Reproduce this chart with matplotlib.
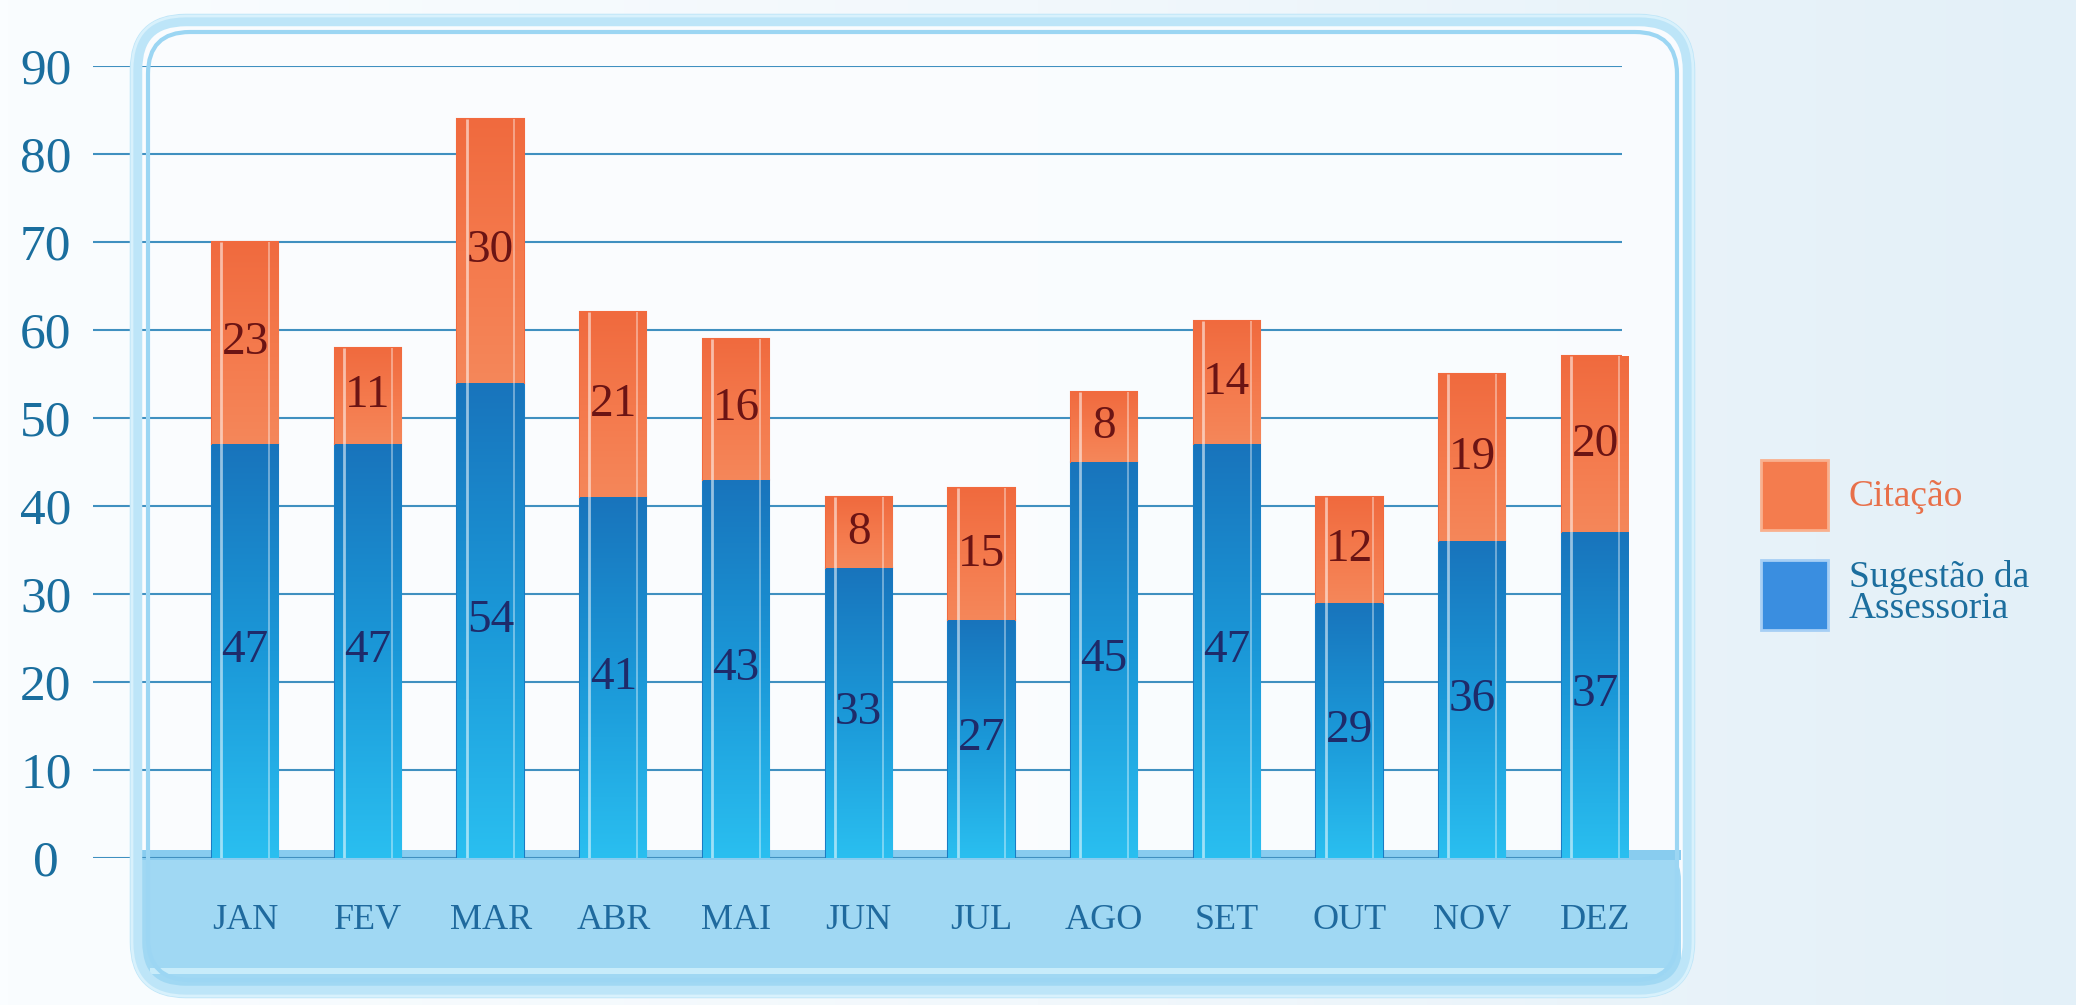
import matplotlib
matplotlib.use('Agg')
import matplotlib.pyplot as plt
import numpy as np
from matplotlib.patches import FancyBboxPatch, Rectangle
from matplotlib.colors import LinearSegmentedColormap

MONTHS = ['JAN', 'FEV', 'MAR', 'ABR', 'MAI', 'JUN', 'JUL', 'AGO', 'SET', 'OUT', 'NOV', 'DEZ']
SUGESTAO = [47, 47, 54, 41, 43, 33, 27, 45, 47, 29, 36, 37]
CITACAO = [23, 11, 30, 21, 16, 8, 15, 8, 14, 12, 19, 20]
Y_TICKS = list(range(0, 100, 10))

plt.rcParams['font.family'] = ['Liberation Serif', 'DejaVu Serif']

W, H = 2076, 1005
BAR_W = 0.54

blue_cmap = LinearSegmentedColormap.from_list('blue', ['#2ABFF0', '#1B98D8', '#1874BC'])
orange_cmap = LinearSegmentedColormap.from_list('orange', ['#F5875A', '#F4794C', '#F06A3E'])

fig = plt.figure(figsize=(W / 100, H / 100), dpi=100)

# background + frame fill, pixel coordinates
bg = fig.add_axes([0, 0, 1, 1], zorder=0)
bg.set_xlim(0, W)
bg.set_ylim(H, 0)
bg.axis('off')
grad = np.linspace(0, 1, 256).reshape(1, -1)
bg.imshow(grad, extent=(0, W, H, 0), aspect='auto',
          cmap=LinearSegmentedColormap.from_list('bg', ['#FAFDFF', '#F2F8FC', '#E3F0F8']))
bg.add_patch(FancyBboxPatch((140, 24), 1545, 964, boxstyle='round,pad=0,rounding_size=45',
                            facecolor='#FBFDFF', edgecolor='none', alpha=0.9))
# glass base shelf
bg.add_patch(FancyBboxPatch((136, 850), 1545, 138, boxstyle='round,pad=0,rounding_size=30',
                            facecolor='#A0D8F3', edgecolor='none'))
bg.add_patch(Rectangle((136, 850), 1545, 10, facecolor='#88CCEF', edgecolor='none'))
bg.add_patch(Rectangle((150, 968), 1515, 6, facecolor='#C8ECFA', edgecolor='none'))

ax = fig.add_axes([93 / W, 1 - 858 / H, (1622 - 93) / W, (858 - 66) / H], zorder=1)
ax.patch.set_alpha(0)

x = np.arange(len(MONTHS))
totals = np.array(SUGESTAO) + np.array(CITACAO)

for t in Y_TICKS:
    ax.axhline(t, color='#4090C0', lw=1.5, zorder=0)

blue_bars = ax.bar(x, SUGESTAO, BAR_W, color='#1C9ADA', edgecolor='#1A7CC4', lw=1.5, zorder=2)
orange_bars = ax.bar(x, CITACAO, BAR_W, bottom=SUGESTAO, color='#F47C4E',
                     edgecolor='#F26A3E', lw=1.5, zorder=2)

vgrad = np.linspace(0, 1, 256).reshape(-1, 1)
for bars, cmap in ((blue_bars, blue_cmap), (orange_bars, orange_cmap)):
    for p in bars:
        x0, y0 = p.get_x(), p.get_y()
        im = ax.imshow(vgrad, extent=(x0, x0 + p.get_width(), y0, y0 + p.get_height()),
                       origin='lower', aspect='auto', cmap=cmap, zorder=2.1)
        im.set_clip_path(p)

# glass highlights on the bars
ax.vlines(x - BAR_W * 0.36, 0, totals, color='white', lw=2, alpha=0.55, zorder=2.5)
ax.vlines(x + BAR_W * 0.36, 0, totals, color='white', lw=1.2, alpha=0.45, zorder=2.5)

for xi, b, o in zip(x, SUGESTAO, CITACAO):
    ax.text(xi, b / 2, str(b), ha='center', va='center', fontsize=34, color='#1E2B6A', zorder=3)
    ax.text(xi, b + o / 2, str(o), ha='center', va='center', fontsize=34, color='#6B1414', zorder=3)

ax.set_xlim(-1.24, 11.22)
ax.set_ylim(0, 90)
ax.set_yticks(Y_TICKS)
ax.set_yticklabels([str(t) for t in Y_TICKS], fontsize=37, color='#1A6E9E', ha='center')
ax.set_xticks(x)
ax.set_xticklabels(MONTHS, fontsize=26, color='#1F6A9E')
ax.tick_params(axis='y', length=0, pad=34)
ax.tick_params(axis='x', length=0, pad=33)
for s in ax.spines.values():
    s.set_visible(False)

# frame walls on top
fg = fig.add_axes([0, 0, 1, 1], zorder=3)
fg.set_xlim(0, W)
fg.set_ylim(H, 0)
fg.axis('off')
fg.patch.set_alpha(0)
fg.add_patch(FancyBboxPatch((136, 20), 1553, 972, boxstyle='round,pad=0,rounding_size=50',
                            facecolor='none', edgecolor='#BDE5F8', lw=9))
fg.add_patch(FancyBboxPatch((148, 32), 1529, 948, boxstyle='round,pad=0,rounding_size=42',
                            facecolor='none', edgecolor='#9CD6F3', lw=3))
fg.add_patch(FancyBboxPatch((132, 16), 1561, 980, boxstyle='round,pad=0,rounding_size=54',
                            facecolor='none', edgecolor='#D8F1FC', lw=2))

# legend
handles = [Rectangle((0, 0), 1, 1, facecolor='#F47C4E', edgecolor='#F9B08E', lw=2),
           Rectangle((0, 0), 1, 1, facecolor='#3A8EE0', edgecolor='#A6CFF5', lw=2)]
leg = fig.legend(handles, ['Citação', 'Sugestão da\nAssessoria'], loc='center left',
                 bbox_to_anchor=(1742 / W, 1 - 545 / H), frameon=False, fontsize=27,
                 handlelength=1.8, handleheight=2.5, handletextpad=0.55, labelspacing=0.8,
                 borderpad=0)
for txt, c in zip(leg.get_texts(), ['#E8704A', '#1C6E9E']):
    txt.set_color(c)
    txt.set_linespacing(0.85)

fig.savefig('out.png', dpi=100)
